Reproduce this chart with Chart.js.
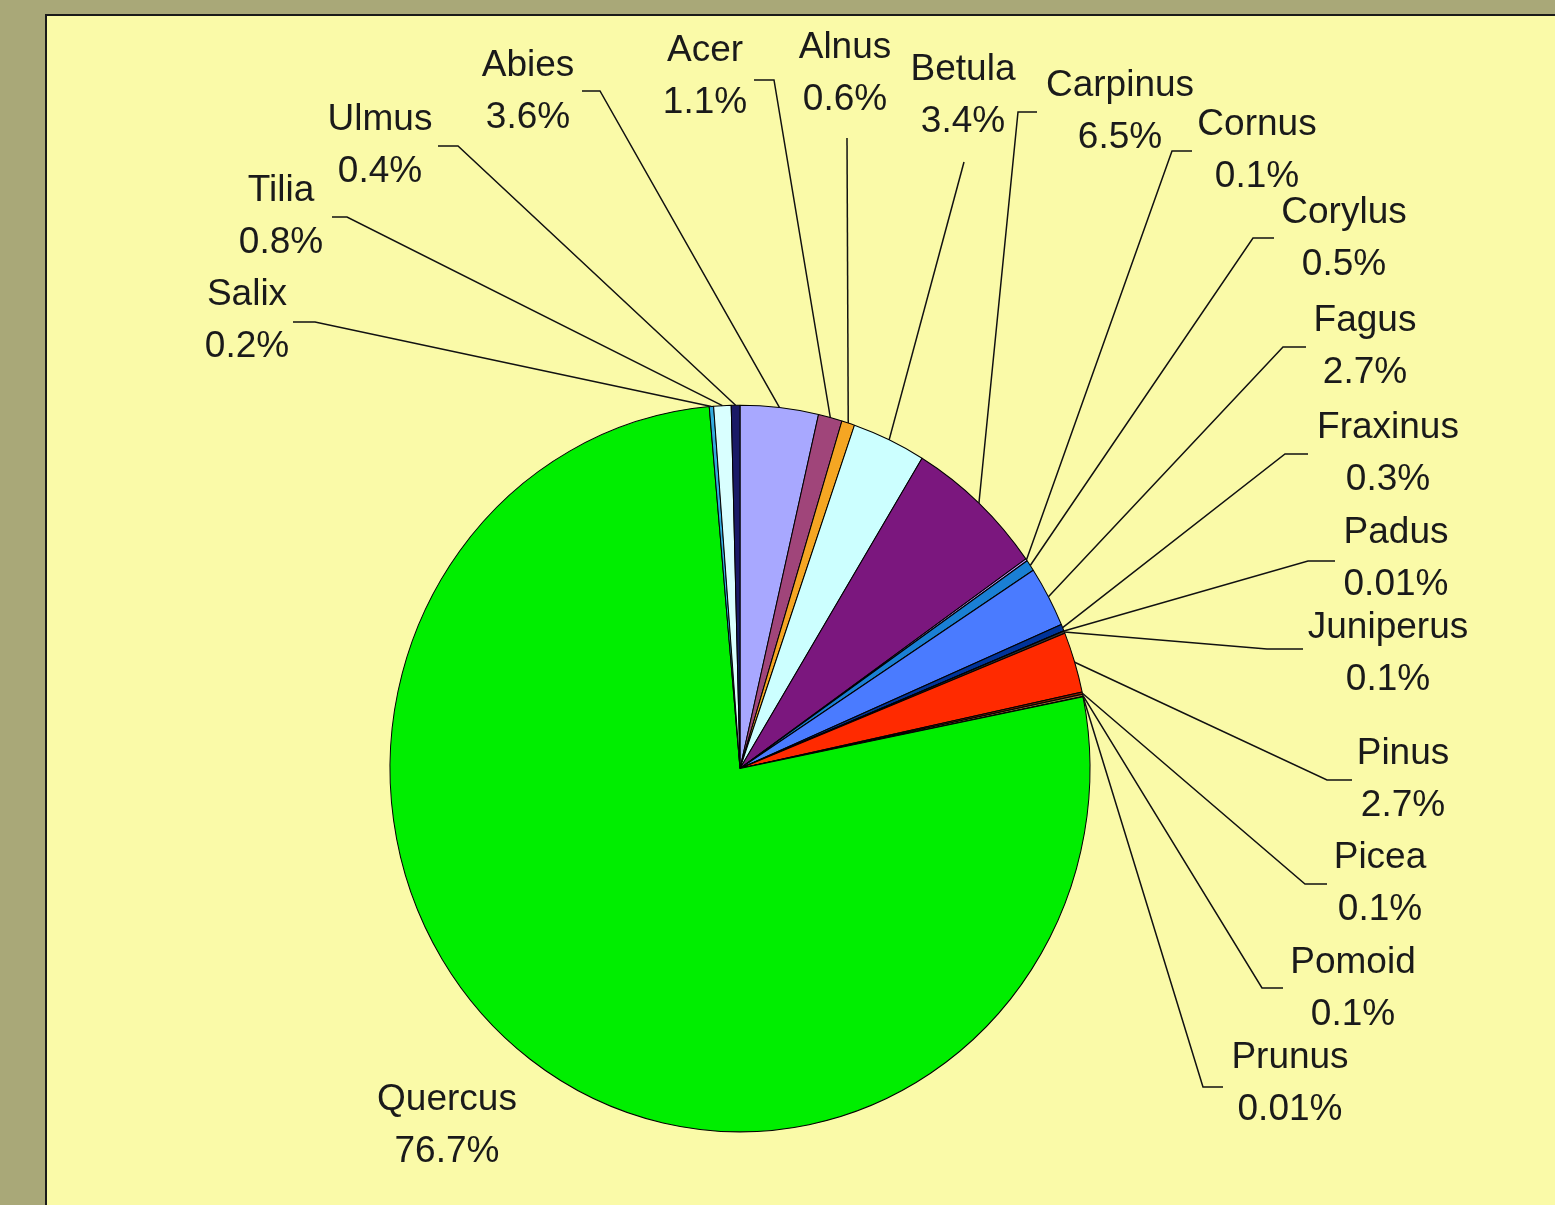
<!DOCTYPE html>
<html>
<head>
<meta charset="utf-8">
<title>Pollen types</title>
<script src="https://cdn.jsdelivr.net/npm/chart.js@4/dist/chart.umd.min.js"></script>
<style>
  html, body { margin: 0; padding: 0; background: #a9a878; }
  canvas { display: block; }
</style>
</head>
<body>
<canvas id="pie" width="1555" height="1205"></canvas>
<script>
// taxa, clockwise from 12 o'clock
const taxa = ["Abies", "Acer", "Alnus", "Betula", "Carpinus", "Cornus", "Corylus", "Fagus",
  "Fraxinus", "Padus", "Juniperus", "Pinus", "Picea", "Pomoid", "Prunus", "Quercus",
  "Salix", "Tilia", "Ulmus"];
const shares = [3.6, 1.1, 0.6, 3.4, 6.5, 0.1, 0.5, 2.7, 0.3, 0.01, 0.1, 2.7, 0.1, 0.1, 0.01, 76.7,
  0.2, 0.8, 0.4];
const sliceColors = ["#a8a8ff", "#a0457a", "#f5a623", "#ccffff", "#7b177e", "#cc99ff", "#1a7fd4",
  "#4a7bff", "#003399", "#ffffff", "#333333", "#ff2a00", "#8b1a00", "#996633", "#000000",
  "#00ee00", "#33aadd", "#d9ffff", "#1a1a66"];

// where each label sits: [text x, first line y, elbow x, elbow y, tail x]
const labelSpots = {
  Abies: [528, 63, 600, 91, 582],
  Acer: [705, 48, 774, 80, 754],
  Alnus: [845, 45, 847, 138, null],
  Betula: [963, 67, 964, 162, null],
  Carpinus: [1120, 83, 1018, 112, 1037],
  Cornus: [1257, 122, 1172, 151, 1192],
  Corylus: [1344, 210, 1253, 238, 1274],
  Fagus: [1365, 318, 1283, 347, 1306],
  Fraxinus: [1388, 425, 1285, 454, 1308],
  Padus: [1396, 530, 1308, 561, 1335],
  Juniperus: [1388, 625, 1267, 649, 1303],
  Pinus: [1403, 751, 1327, 780, 1352],
  Picea: [1380, 855, 1305, 884, 1327],
  Pomoid: [1353, 960, 1262, 988, 1283],
  Prunus: [1290, 1055, 1203, 1087, 1223],
  Quercus: [447, 1097, null, null, null],
  Salix: [247, 292, 315, 322, 293],
  Tilia: [281, 188, 347, 217, 332],
  Ulmus: [380, 117, 458, 146, 438]
};

// the original pie is a little taller than wide
const squashY = 1.038;

const panelBackground = {
  id: "panelBackground",
  beforeDraw(chart) {
    const ctx = chart.ctx;
    ctx.save();
    ctx.fillStyle = "#a9a878";
    ctx.fillRect(0, 0, chart.width, chart.height);
    ctx.fillStyle = "#fafaa8";
    ctx.fillRect(45, 14, chart.width - 45, chart.height - 14);
    ctx.strokeStyle = "#1a1a1a";
    ctx.lineWidth = 2;
    ctx.beginPath();
    ctx.moveTo(46, chart.height);
    ctx.lineTo(46, 15);
    ctx.lineTo(chart.width, 15);
    ctx.stroke();
    ctx.restore();
  }
};

const leaderLabels = {
  id: "leaderLabels",
  beforeDatasetsDraw(chart) {
    const ctx = chart.ctx;
    const a = chart.chartArea;
    const cx = (a.left + a.right) / 2, cy = (a.top + a.bottom) / 2;
    ctx.save();
    ctx.translate(cx, cy);
    ctx.scale(1, squashY);
    ctx.translate(-cx, -cy);
  },
  afterDatasetsDraw(chart) {
    const ctx = chart.ctx;
    ctx.restore();
    const meta = chart.getDatasetMeta(0);
    ctx.save();
    ctx.strokeStyle = "#111";
    ctx.lineWidth = 1.5;
    ctx.fillStyle = "#1a1a1a";
    ctx.font = '37px "Liberation Sans", Arial, sans-serif';
    ctx.textAlign = "center";
    ctx.textBaseline = "alphabetic";
    meta.data.forEach((arc, i) => {
      const name = taxa[i];
      const spot = labelSpots[name];
      const p = arc.getProps(["x", "y", "startAngle", "endAngle", "outerRadius"], true);
      const mid = (p.startAngle + p.endAngle) / 2;
      if (spot[2] !== null) {
        ctx.beginPath();
        ctx.moveTo(p.x + Math.cos(mid) * p.outerRadius,
                   p.y + Math.sin(mid) * p.outerRadius * squashY);
        ctx.lineTo(spot[2], spot[3]);
        if (spot[4] !== null) ctx.lineTo(spot[4], spot[3]);
        ctx.stroke();
      }
      ctx.fillText(name, spot[0], spot[1] + 13);
      ctx.fillText(shares[i] + "%", spot[0], spot[1] + 52 + 13);
    });
    ctx.restore();
  }
};

new Chart(document.getElementById("pie"), {
  type: "pie",
  data: {
    labels: taxa,
    datasets: [{
      data: shares,
      backgroundColor: sliceColors,
      borderColor: "#000",
      borderWidth: 1,
      radius: 350
    }]
  },
  options: {
    responsive: false,
    animation: false,
    layout: { padding: { left: 390, right: 465, top: 418, bottom: 86 } },
    plugins: {
      legend: { display: false },
      tooltip: { enabled: false }
    }
  },
  plugins: [panelBackground, leaderLabels]
});
</script>
</body>
</html>
